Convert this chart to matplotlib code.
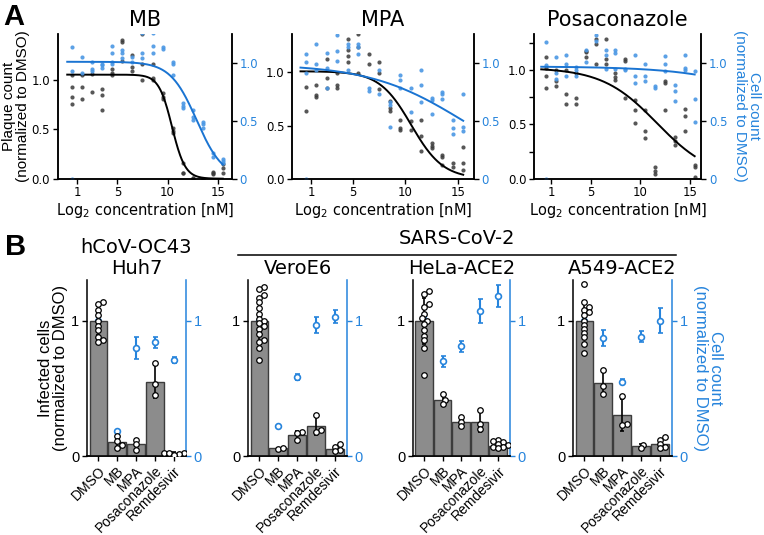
import numpy as np
import matplotlib
matplotlib.use("Agg")
import matplotlib.pyplot as plt

W, H = 764, 535
BLUE = '#2684dc'
BLUE_PT = '#4a97e4'
BLACK_PT = '#3a3a3a'
ARIAL = 'Liberation Sans'

# ---- panel A data: log2 concentration and replicate values per dose ----
conc_log2 = [0.5, 1.5, 2.5, 3.5, 4.5, 5.5, 6.5, 7.5, 8.5, 9.5, 10.5, 11.5, 12.5, 13.5, 14.5, 15.5]

mb_plaque = [[1.05, 0.93, 0.82, 0.75], [1.05, 0.93, 0.80], [1.06, 0.87], [0.91, 0.84, 0.69],
             [1.11, 1.07, 1.05], [1.40, 1.38, 1.19], [1.25, 1.13, 1.09], [1.46, 1.16, 1.0],
             [1.16, 1.02, 1.0], [0.865, 0.82, 0.80], [0.51, 0.48, 0.46], [0.16, 0.057, 0.06],
             [0.007, 0.0, 0.01], [0.0, 0.0], [0.067, 0.047, 0.06], [0.15, 0.11, 0.057]]
mb_cells = [[1.14, 0.93, 0.0], [1.05, 0.91], [1.01, 0.95, 0.93], [0.98, 0.96, 0.99],
            [1.15, 1.09, 1.01, 0.99], [1.11, 1.09, 1.04], [1.05, 1.01], [1.26, 1.09, 1.04],
            [1.26, 1.15, 1.09], [1.14, 1.12], [1.01, 0.99, 0.90], [0.65, 0.63, 0.61],
            [0.59, 0.53, 0.51], [0.49, 0.47, 0.44], [0.22, 0.19], [0.17, 0.156, 0.135]]

mpa_plaque = [[0.86, 0.64], [0.88, 0.79, 0.765], [1.125, 0.95, 0.85], [0.99, 0.88, 0.85],
              [1.31, 1.21, 1.15, 1.10], [1.36, 1.24, 0.99], [1.17, 1.08], [1.10, 0.99, 0.84],
              [0.73, 0.665, 0.64], [0.555, 0.48, 0.46], [0.54, 0.46], [0.555, 0.40, 0.26],
              [0.335, 0.31, 0.29], [0.22, 0.20, 0.13], [0.15, 0.11], [0.30, 0.15, 0.085]]
mpa_cells = [[1.08, 1.01, 0.91, 0.0], [1.16, 0.99, 0.94], [1.09, 0.96, 0.78], [1.24, 1.10, 1.02],
             [1.16, 1.14, 0.94], [1.16, 1.14, 1.08], [0.78, 0.76], [0.94, 0.73],
             [0.66, 0.64, 0.45], [0.90, 0.85, 0.78], [0.78, 0.58], [0.94, 0.81, 0.66],
             [0.70, 0.68, 0.56], [0.75, 0.73, 0.69], [0.51, 0.44, 0.39], [0.73, 0.45, 0.415]]

posa_plaque = [[1.12, 1.015, 0.94, 0.83], [1.0, 0.90, 0.85], [1.0, 0.78, 0.69], [0.97, 0.74, 0.69],
               [1.175, 1.16, 1.12], [1.28, 1.24, 1.05], [1.28, 1.10, 1.05], [0.97, 0.935, 0.91],
               [1.10, 1.08, 0.74], [0.72, 0.63, 0.51], [0.63, 0.44, 0.375], [0.11, 0.07, 0.04],
               [0.90, 0.88, 0.63], [0.38, 0.35, 0.31], [0.645, 0.575, 0.44], [0.13, 0.105, 0.015]]
posa_cells = [[1.18, 0.98, 0.0], [1.05, 0.91, 0.86], [1.07, 0.99, 0.885], [0.965, 0.94, 0.885],
              [1.115, 1.01], [1.24, 1.19], [1.11, 1.07, 0.95], [1.11, 1.09, 0.95],
              [0.95, 0.94], [1.07, 0.885, 0.83], [0.99, 0.885, 0.84], [0.80, 0.78],
              [1.06, 0.99, 0.93], [0.81, 0.76, 0.67], [1.07, 0.96, 0.94], [0.93, 0.69, 0.49]]

# dose-response fit parameters (top, log2 IC50, hill)
drugs_a = ['MB', 'MPA', 'Posaconazole']
plaque_top = [1.05, 1.01, 1.02]
plaque_ic50 = [10.44, 10.55, 11.7]
plaque_hill = [2.2, 0.95, 0.52]
cells_top = [1.01, 0.99, 0.97]
cells_ic50 = [12.9, 15.6, 27.8]
cells_hill = [1.1, 0.32, 0.3]

# ---- panel B data ----
groups = ['DMSO', 'MB', 'MPA', 'Posaconazole', 'Remdesivir']
cell_lines = ['hCoV-OC43\nHuh7', 'VeroE6', 'HeLa-ACE2', 'A549-ACE2']

huh7_bar = [1.0, 0.104, 0.086, 0.55, 0.02]
huh7_pts = [[1.14, 1.12, 1.08, 1.04, 1.0, 0.96, 0.93, 0.88, 0.86, 0.84], [0.15, 0.11, 0.08, 0.06],
            [0.12, 0.09, 0.045], [0.69, 0.53, 0.45], [0.03, 0.025, 0.02, 0.02, 0.015, 0.01]]
huh7_cell = [1.0, 0.185, 0.80, 0.84, 0.71]
huh7_cell_err = [0.03, 0.01, 0.08, 0.04, 0.02]

vero_bar = [1.0, 0.057, 0.155, 0.225, 0.05]
vero_pts = [[1.25, 1.23, 1.19, 1.17, 1.14, 1.09, 1.05, 1.01, 1.0, 0.98, 0.96, 0.94, 0.90, 0.86, 0.84, 0.80, 0.71],
            [0.055, 0.06], [0.18, 0.17, 0.12], [0.30, 0.19, 0.18], [0.09, 0.07, 0.045, 0.04]]
vero_cell = [1.0, 0.22, 0.585, 0.97, 1.03]
vero_cell_err = [0.03, 0.0, 0.02, 0.06, 0.05]

hela_bar = [1.0, 0.41, 0.25, 0.25, 0.075]
hela_pts = [[1.22, 1.20, 1.12, 1.10, 1.05, 1.02, 1.0, 0.975, 0.93, 0.89, 0.86, 0.80, 0.60],
            [0.46, 0.41, 0.385], [0.29, 0.25, 0.22], [0.34, 0.24, 0.20],
            [0.12, 0.11, 0.10, 0.09, 0.08, 0.07, 0.065, 0.06]]
hela_cell = [1.0, 0.70, 0.81, 1.07, 1.18]
hela_cell_err = [0.03, 0.04, 0.04, 0.09, 0.08]

a549_bar = [1.0, 0.54, 0.30, 0.074, 0.086]
a549_pts = [[1.27, 1.14, 1.10, 1.08, 1.06, 1.04, 1.0, 0.97, 0.94, 0.91, 0.88, 0.83, 0.76],
            [0.635, 0.52, 0.46], [0.44, 0.24, 0.23], [0.08, 0.057], [0.14, 0.12, 0.09, 0.07, 0.057]]
a549_cell = [1.0, 0.87, 0.55, 0.88, 1.0]
a549_cell_err = [0.03, 0.06, 0.02, 0.04, 0.09]


def px_axes(fig, l, t, r, b):
    return fig.add_axes([l / W, 1 - b / H, (r - l) / W, (b - t) / H])


def hill(x, top, ic50, n):
    return top / (1 + 2 ** (n * (x - ic50)))


def swarm(vals, d=5.0, xs=19.0, ys=135.3):
    # simple beeswarm: offsets in data units, markers may overlap a little
    vals = np.asarray(vals)
    placed = []
    offs = np.zeros(len(vals))
    cands = [0.0]
    for k in range(1, 30):
        cands += [k * d * 0.5, -k * d * 0.5]
    for i in np.argsort(vals):
        y = vals[i] * ys
        for c in cands:
            if all((c - px) ** 2 + (y - py) ** 2 >= d * d * 0.55 for px, py in placed):
                break
        placed.append((c, y))
        offs[i] = c / xs
    return offs


fig = plt.figure(figsize=(W / 100, H / 100), dpi=100)

# ================= panel A =================
a_boxes = [(57.7, 34, 231.7, 178.7), (292, 34, 473.7, 178.7), (534, 34, 701.3, 178.7)]
a_xlims = [(-0.95, 16.39), (-0.81, 16.5), (-0.73, 16.17)]
a_ylims = [1.46, 1.36, 1.33]
plaque_sets = [mb_plaque, mpa_plaque, posa_plaque]
cell_sets = [mb_cells, mpa_cells, posa_cells]
xfit = np.linspace(0, 15.5, 300)

for k in range(3):
    ax = px_axes(fig, *a_boxes[k])
    ax2 = ax.twinx()
    for x, vals in zip(conc_log2, plaque_sets[k]):
        ax.scatter([x] * len(vals), vals, s=9, color=BLACK_PT, alpha=0.85, lw=0, zorder=2)
    for x, vals in zip(conc_log2, cell_sets[k]):
        ax2.scatter([x] * len(vals), vals, s=9, color=BLUE_PT, alpha=0.9, lw=0, zorder=2)
    ax.plot(xfit, hill(xfit, plaque_top[k], plaque_ic50[k], plaque_hill[k]), color='black', lw=1.4, zorder=3)
    ax2.plot(xfit, hill(xfit, cells_top[k], cells_ic50[k], cells_hill[k]), color='#1a74d2', lw=1.4, zorder=3)
    ax.set_xlim(*a_xlims[k])
    ax.set_ylim(0, a_ylims[k])
    ax2.set_ylim(0, 1.25)
    ax.set_xticks([1, 5, 10, 15])
    if k == 2:
        ax.set_yticks(np.arange(0, 1.3, 0.25))
        ax.set_yticklabels(['0.0', '', '0.5', '', '1.0', ''])
    else:
        ax.set_yticks([0, 0.5, 1.0])
        ax.set_yticklabels(['0.0', '0.5', '1.0'])
    ax2.set_yticks([0, 0.5, 1.0])
    ax2.set_yticklabels(['0', '0.5', '1.0'])
    for a in (ax, ax2):
        a.spines['top'].set_visible(False)
        for s in a.spines.values():
            s.set_linewidth(1.1)
    ax.tick_params(labelsize=8.5, length=3.5, width=1, pad=2)
    ax2.tick_params(labelsize=8.5, length=3.5, width=1, pad=2, labelcolor=BLUE)
    ax.set_xlabel('Log$_2$ concentration [nM]', fontsize=10.5, labelpad=1)
    ax.set_title(drugs_a[k], fontsize=15, pad=6)
    if k == 0:
        ax.set_ylabel('Plaque count\n(normalized to DMSO)', fontsize=11, family=ARIAL, labelpad=1,
                      linespacing=1.0)
    if k == 2:
        ax2.set_ylabel('Cell count\n(normalized to DMSO)', fontsize=11, family=ARIAL, color=BLUE,
                       rotation=270, va='bottom', labelpad=4, linespacing=1.0)

# ================= panel B =================
b_boxes = [(87, 280, 186, 456), (248, 280, 347, 456), (413, 280, 510, 456), (573, 280, 672, 456)]
b_bars = [huh7_bar, vero_bar, hela_bar, a549_bar]
b_pts = [huh7_pts, vero_pts, hela_pts, a549_pts]
b_cell = [huh7_cell, vero_cell, hela_cell, a549_cell]
b_cell_err = [huh7_cell_err, vero_cell_err, hela_cell_err, a549_cell_err]
xpos = np.arange(len(groups))

for k in range(4):
    ax = px_axes(fig, *b_boxes[k])
    ax2 = ax.twinx()
    ax.set_zorder(ax2.get_zorder() + 1)
    ax.patch.set_visible(False)
    ax.bar(xpos, b_bars[k], width=0.93, color='#8c8c8c', edgecolor='#3c3c3c', lw=1, zorder=1)
    sds = [np.std(p, ddof=1) for p in b_pts[k]]
    ax.errorbar(xpos, b_bars[k], yerr=sds, fmt='none', ecolor='black', elinewidth=1.2,
                capsize=1.5, capthick=1.2, zorder=2)
    for i, vals in enumerate(b_pts[k]):
        offs = swarm(vals)
        ax.scatter(xpos[i] + offs, vals, s=16, facecolor='white', edgecolor='black', lw=0.9, zorder=4)
    ax2.errorbar(xpos, b_cell[k], yerr=b_cell_err[k], fmt='o', ms=4.2, mfc='white', mec=BLUE,
                 mew=1.2, ecolor=BLUE, elinewidth=1.5, capsize=1.8, capthick=1.3)
    ax.set_xlim(-0.6, 4.65)
    ax.set_ylim(0, 1.3)
    ax2.set_ylim(0, 1.3)
    ax.set_yticks([0, 1])
    ax2.set_yticks([0, 1])
    ax.set_xticks(xpos)
    ax.set_xticklabels(groups, rotation=45, ha='right', rotation_mode='anchor', fontsize=10, family=ARIAL)
    ax.tick_params(axis='x', length=3.5, width=1, pad=2)
    ax.tick_params(axis='y', labelsize=10.5, length=3.5, width=1, pad=2)
    ax2.tick_params(axis='y', labelsize=10.5, length=3.5, width=1, pad=2, colors=BLUE)
    for lab in ax.get_yticklabels() + ax2.get_yticklabels():
        lab.set_family(ARIAL)
    for a in (ax, ax2):
        a.spines['top'].set_visible(False)
        for s in a.spines.values():
            s.set_linewidth(1.1)
    ax.spines['right'].set_visible(False)
    ax2.spines['left'].set_visible(False)
    ax2.spines['right'].set_color(BLUE)
    ax.set_title(cell_lines[k], fontsize=14, pad=4, linespacing=1.15)
    if k == 0:
        ax.set_ylabel('Infected cells\n(normalized to DMSO)', fontsize=12, family=ARIAL, labelpad=2,
                      linespacing=1.0)
    if k == 3:
        ax2.set_ylabel('Cell count\n(normalized to DMSO)', fontsize=12, family=ARIAL, color=BLUE,
                       rotation=270, va='bottom', labelpad=4, linespacing=1.0)

# SARS-CoV-2 bracket
fig.add_artist(plt.Line2D([238 / W, 676 / W], [1 - 255 / H, 1 - 255 / H], color='black', lw=1.1))
fig.text(457 / W, 1 - 248 / H, 'SARS-CoV-2', ha='center', va='bottom', fontsize=14)

fig.text(3 / W, 1 - 3 / H, 'A', fontsize=21, fontweight='bold', family=ARIAL, va='top', ha='left')
fig.text(5 / W, 1 - 233 / H, 'B', fontsize=21, fontweight='bold', family=ARIAL, va='top', ha='left')

fig.savefig('out.png', dpi=100)
